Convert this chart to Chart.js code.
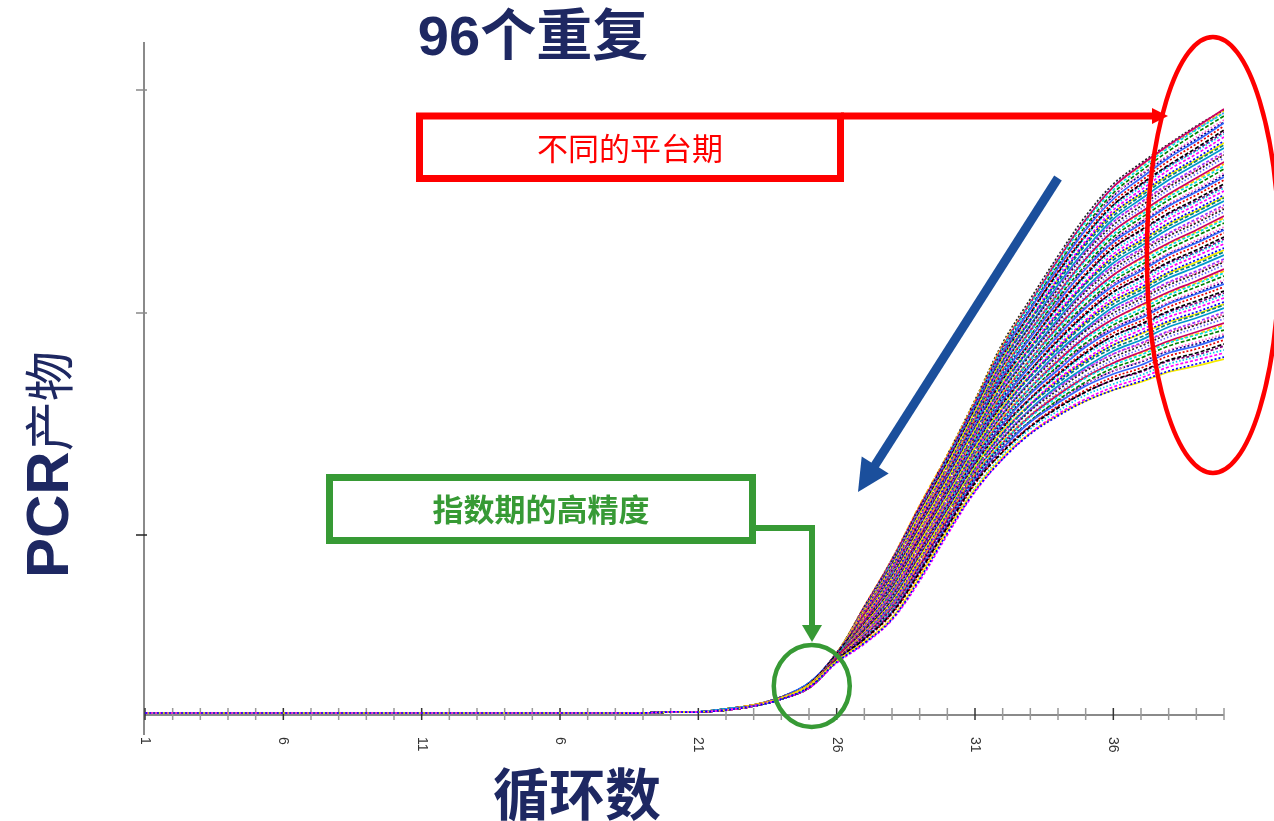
<!DOCTYPE html>
<html lang="zh">
<head>
<meta charset="utf-8">
<title>96个重复</title>
<script src="https://cdn.jsdelivr.net/npm/chart.js@4.4.1/dist/chart.umd.min.js"></script>
<style>
  html, body { margin: 0; padding: 0; background: #fff; }
  #wrap { position: relative; width: 1274px; height: 821px; }
</style>
</head>
<body>
<div id="wrap"><canvas id="pcrChart"></canvas></div>
<script>
// cycle numbers on the x axis
const cycles = [1,2,3,4,5,6,7,8,9,10,11,12,13,14,15,16,17,18,19,20,
                21,22,23,24,25,26,27,28,29,30,31,32,33,34,35,36,37,38,39,40];
const xTickCycles = [1, 6, 11, 16, 21, 26, 31, 36];
const xTickLabels = ['1', '6', '11', '6', '21', '26', '31', '36'];
// unlabelled y ticks (fluorescence, arbitrary units)
const yTickValues = [180, 402, 625];

// all wells sit on the same flat baseline for cycles 1-21
const baseline = [2,2,2,2,2,2,2,2,2,2,2,2,2,2,2,2,2,2,2,3,3];

// cycles 22-40 for each of the 96 replicate wells
const wellTails = [
  [5,9,16,28,53, 72,96,136,182,224,256,281,299,314,325,334,344,351,358],
  [5,9,16,27,52, 71,95,134,180,223,256,282,301,316,328,337,348,355,362],
  [5,9,17,29,54, 73,97,138,184,226,258,282,300,314,325,333,343,349,356],
  [6,9,16,28,53, 72,97,137,184,227,260,286,304,320,331,340,351,358,365],
  [5,9,16,28,55, 76,102,143,188,232,263,288,307,323,335,344,355,362,371],
  [5,9,16,27,54, 75,101,141,186,231,263,289,309,325,338,347,359,366,375],
  [5,9,17,29,56, 77,103,145,190,234,265,289,308,323,335,343,354,360,369],
  [6,9,16,28,55, 76,103,144,190,235,267,293,312,329,341,350,362,369,378],
  [5,9,16,28,55, 78,105,146,191,235,268,293,313,331,344,354,365,373,381],
  [5,9,16,27,54, 77,104,144,189,234,268,294,315,333,347,357,369,377,385],
  [5,9,17,29,56, 79,106,148,193,237,270,294,314,331,344,353,364,371,379],
  [6,9,16,28,55, 78,106,147,193,238,272,298,318,337,350,360,372,380,388],
  [5,9,16,28,55, 79,107,149,195,239,272,299,320,338,352,363,374,383,392],
  [5,9,16,27,54, 78,106,147,193,238,272,300,322,340,355,366,378,387,396],
  [5,9,17,29,56, 80,108,151,197,241,274,300,321,338,352,362,373,381,390],
  [6,9,16,28,55, 79,108,150,197,242,276,304,325,344,358,369,381,390,399],
  [5,9,16,28,55, 81,110,152,198,243,277,305,327,346,361,372,384,393,403],
  [5,9,16,27,54, 80,109,150,196,242,277,306,329,348,364,375,388,397,407],
  [5,9,17,29,56, 82,111,154,200,245,279,306,328,346,361,371,383,391,401],
  [6,9,16,28,55, 81,111,153,200,246,281,310,332,352,367,378,391,400,410],
  [5,9,16,28,55, 82,112,155,201,246,282,310,334,354,370,382,394,403,413],
  [5,9,16,27,54, 81,111,153,199,245,282,311,336,356,373,385,398,407,417],
  [5,9,17,29,56, 83,113,157,203,248,284,311,335,354,370,381,393,401,411],
  [6,9,16,28,55, 82,113,156,203,249,286,315,339,360,376,388,401,410,420],
  [5,9,16,28,55, 84,114,158,204,250,287,316,340,362,379,391,404,414,424],
  [5,9,16,27,54, 83,113,156,202,249,287,317,342,364,382,394,408,418,428],
  [5,9,17,29,56, 85,115,160,206,252,289,317,341,362,379,390,403,412,422],
  [6,9,16,28,55, 84,115,159,206,253,291,321,345,368,385,397,411,421,431],
  [5,9,16,28,55, 85,117,161,207,254,291,322,347,370,387,400,413,424,435],
  [5,9,16,27,54, 84,116,159,205,253,291,323,349,372,390,403,417,428,439],
  [5,9,17,29,56, 86,118,163,209,256,293,323,348,370,387,399,412,422,433],
  [6,9,16,28,55, 85,118,162,209,257,295,327,352,376,393,406,420,431,442],
  [5,9,17,29,58, 86,119,164,210,257,296,327,354,378,396,410,423,434,446],
  [5,9,16,28,57, 85,118,162,208,256,296,328,356,380,399,413,427,438,450],
  [6,10,17,30,58, 87,120,166,212,259,298,328,355,378,396,409,422,432,444],
  [5,9,17,29,59, 86,120,165,212,260,300,332,359,384,402,416,430,441,453],
  [5,9,17,29,58, 88,122,167,214,261,301,333,361,385,405,419,433,444,456],
  [5,9,16,28,57, 87,121,165,212,260,301,334,363,387,408,422,437,448,460],
  [6,10,17,30,58, 89,123,169,216,263,303,334,362,385,405,418,432,442,454],
  [5,9,17,29,59, 88,123,168,216,264,305,338,366,391,411,425,440,451,463],
  [5,9,17,29,58, 89,124,170,217,265,306,339,367,393,414,428,443,455,467],
  [5,9,16,28,57, 88,123,168,215,264,306,340,369,395,417,431,447,459,471],
  [6,10,17,30,58, 90,125,172,219,267,308,340,368,393,414,427,442,453,465],
  [5,9,17,29,59, 89,125,171,219,268,310,344,372,399,420,434,450,462,474],
  [5,9,17,29,58, 91,126,173,220,268,311,344,374,401,423,438,453,465,478],
  [5,9,16,28,57, 90,125,171,218,267,311,345,376,403,426,441,457,469,482],
  [6,10,17,30,58, 92,127,175,222,270,313,345,375,401,423,437,452,463,476],
  [5,9,17,29,59, 91,127,174,222,271,315,349,379,407,429,444,460,472,485],
  [5,9,17,29,58, 92,129,175,223,272,315,350,381,409,431,447,462,475,488],
  [5,9,16,28,57, 91,128,173,221,271,315,351,383,411,434,450,466,479,492],
  [6,10,17,30,58, 93,130,177,225,274,317,351,382,409,431,446,461,473,486],
  [5,9,17,29,59, 92,130,176,225,275,319,355,386,415,437,453,469,482,495],
  [5,9,17,29,58, 94,131,178,226,275,320,355,388,417,440,457,472,485,499],
  [5,9,16,28,57, 93,130,176,224,274,320,356,390,419,443,460,476,489,503],
  [6,10,17,30,58, 95,132,180,228,277,322,356,389,417,440,456,471,483,497],
  [5,9,17,29,59, 94,132,179,228,278,324,360,393,423,446,463,479,492,506],
  [5,9,17,29,58, 95,133,181,229,279,325,361,394,425,449,466,482,496,510],
  [5,9,16,28,57, 94,132,179,227,278,325,362,396,427,452,469,486,500,514],
  [6,10,17,30,58, 96,134,183,231,281,327,362,395,425,449,465,481,494,508],
  [5,9,17,29,59, 95,134,182,231,282,329,366,399,431,455,472,489,503,517],
  [5,9,17,29,58, 97,136,184,233,283,330,367,401,432,458,475,492,506,520],
  [5,9,16,28,57, 96,135,182,231,282,330,368,403,434,461,478,496,510,524],
  [6,10,17,30,58, 98,137,186,235,285,332,368,402,432,458,474,491,504,518],
  [5,9,17,29,59, 97,137,185,235,286,334,372,406,438,464,481,499,513,527],
  [6,10,17,31,61, 98,138,187,236,286,335,372,408,440,467,485,502,516,531],
  [5,10,17,30,60, 97,137,185,234,285,335,373,410,442,470,488,506,520,535],
  [6,10,18,31,62, 99,139,189,238,288,337,373,409,440,467,484,501,514,529],
  [6,10,18,32,61, 98,139,188,238,289,339,377,413,446,473,491,509,523,538],
  [6,10,17,31,61, 99,141,190,239,290,339,378,415,448,475,494,511,526,542],
  [5,10,17,30,60, 98,140,188,237,289,339,379,417,450,478,497,515,530,546],
  [6,10,18,31,62, 100,142,192,241,292,341,379,416,448,475,493,510,524,540],
  [6,10,18,32,61, 99,142,191,241,293,343,383,420,454,481,500,518,533,549],
  [6,10,17,31,61, 101,143,193,242,294,344,384,421,456,484,503,521,537,553],
  [5,10,17,30,60, 100,142,191,240,293,344,385,423,458,487,506,525,541,557],
  [6,10,18,31,62, 102,144,195,244,296,346,385,422,456,484,502,520,535,551],
  [6,10,18,32,61, 101,144,194,244,297,348,389,426,462,490,509,528,544,560],
  [6,10,17,31,61, 102,145,196,245,297,349,389,428,464,493,513,531,547,563],
  [5,10,17,30,60, 101,144,194,243,296,349,390,430,466,496,516,535,551,567],
  [6,10,18,31,62, 103,146,198,247,299,351,390,429,464,493,512,530,545,561],
  [6,10,18,32,61, 102,146,197,247,300,353,394,433,470,499,519,538,554,570],
  [6,10,17,31,61, 104,148,199,248,301,354,395,435,472,502,522,541,557,574],
  [5,10,17,30,60, 103,147,197,246,300,354,396,437,474,505,525,545,561,578],
  [6,10,18,31,62, 105,149,201,250,303,356,396,436,472,502,521,540,555,572],
  [6,10,18,32,61, 104,149,200,250,304,358,400,440,478,508,528,548,564,581],
  [6,10,17,31,61, 105,150,202,252,305,358,401,442,479,510,531,550,567,585],
  [5,10,17,30,60, 104,149,200,250,304,358,402,444,481,513,534,554,571,589],
  [6,10,18,31,62, 106,151,204,254,307,360,402,443,479,510,530,549,565,583],
  [6,10,18,32,61, 105,151,203,254,308,362,406,447,485,516,537,557,574,592],
  [6,10,17,31,61, 107,153,205,255,308,363,406,448,487,519,541,560,578,595],
  [5,10,17,30,60, 106,152,203,253,307,363,407,450,489,522,544,564,582,599],
  [6,10,18,31,62, 108,154,207,257,310,365,407,449,487,519,540,559,576,593],
  [6,10,18,32,61, 107,154,206,257,311,367,411,453,493,525,547,567,585,602],
  [6,10,17,31,61, 108,155,208,258,312,368,412,455,495,528,550,570,588,606],
  [5,10,17,30,60, 107,154,206,256,311,368,413,457,496,529,550,569,586,602],
  [6,10,18,31,62, 109,156,210,260,314,370,413,456,495,528,549,569,586,604],
  [6,10,18,32,61, 108,156,209,260,315,372,416,459,499,531,552,571,589,605]
];

// line colours, cycled over the wells
const wellColors = ['#0000FF', '#FF00FF', '#F5EB00', '#00C8F0', '#000000', '#E00000', '#800080', '#3366FF',
                    '#FF66CC', '#008000', '#000080', '#00E0E0', '#CC0066', '#6666FF', '#FFCC00', '#222222',
                    '#9933FF', '#0099CC', '#FF3399', '#008080'];
const dashPatterns = [[2, 2], [3, 2], [], [1.5, 2], [4, 2]];

const NAVY = '#1E2862';
const LATIN = '"Liberation Sans", Arial, "Noto Sans CJK SC", sans-serif';
const CJK = '"Noto Sans CJK SC", "Liberation Sans", sans-serif';

const datasets = wellTails.map((tail, i) => {
  const values = baseline.concat(tail);
  const color = wellColors[i % wellColors.length];
  return {
    label: 'well ' + (i + 1),
    data: values.map((v, k) => ({ x: cycles[k], y: v })),
    borderColor: color,
    backgroundColor: color,
    borderWidth: 1.7,
    borderDash: dashPatterns[i % dashPatterns.length],
    pointRadius: 0,
    tension: 0.35,
    fill: false
  };
});

function arrow(ctx, x1, y1, x2, y2, width, headLen, headHalf, color) {
  const dx = x2 - x1, dy = y2 - y1;
  const len = Math.hypot(dx, dy);
  const ux = dx / len, uy = dy / len;
  const bx = x2 - ux * headLen, by = y2 - uy * headLen;
  ctx.strokeStyle = color;
  ctx.fillStyle = color;
  ctx.lineWidth = width;
  ctx.lineCap = 'butt';
  ctx.beginPath();
  ctx.moveTo(x1, y1);
  ctx.lineTo(bx + ux * 2, by + uy * 2);
  ctx.stroke();
  ctx.beginPath();
  ctx.moveTo(x2, y2);
  ctx.lineTo(bx - uy * headHalf, by + ux * headHalf);
  ctx.lineTo(bx + uy * headHalf, by - ux * headHalf);
  ctx.closePath();
  ctx.fill();
}

// axis lines, tick marks and rotated cycle labels
const axesPlugin = {
  id: 'pcrAxes',
  beforeDatasetsDraw(chart) {
    const { ctx, scales: { x, y } } = chart;
    const x0 = x.getPixelForValue(cycles[0]);
    const x1 = x.getPixelForValue(cycles[cycles.length - 1]);
    const y0 = y.getPixelForValue(0);
    const yTop = y.getPixelForValue(y.max);
    ctx.save();
    ctx.strokeStyle = '#8a8a8a';
    ctx.lineWidth = 2;
    ctx.beginPath();
    ctx.moveTo(x0 - 1, yTop);
    ctx.lineTo(x0 - 1, y0 + 20);
    ctx.moveTo(x0, y0);
    ctx.lineTo(x1, y0);
    ctx.stroke();

    ctx.lineWidth = 1.5;
    yTickValues.forEach((v, i) => {
      const py = y.getPixelForValue(v);
      ctx.strokeStyle = i === 0 ? '#222' : '#888';
      ctx.beginPath();
      ctx.moveTo(x0 - 9, py);
      ctx.lineTo(x0 + 2, py);
      ctx.stroke();
    });

    cycles.forEach(c => {
      const px = x.getPixelForValue(c);
      ctx.strokeStyle = xTickCycles.includes(c) ? '#333' : '#999';
      ctx.beginPath();
      ctx.moveTo(px, y0 - 7);
      ctx.lineTo(px, y0 + 5);
      ctx.stroke();
    });

    ctx.fillStyle = '#333';
    ctx.font = '14px ' + LATIN;
    ctx.textAlign = 'left';
    ctx.textBaseline = 'middle';
    xTickCycles.forEach((c, i) => {
      ctx.save();
      ctx.translate(x.getPixelForValue(c), y0 + 22);
      ctx.rotate(Math.PI / 2);
      ctx.fillText(xTickLabels[i], 0, 0);
      ctx.restore();
    });
    ctx.restore();
  }
};

// titles, callout boxes, arrows and circles
const calloutPlugin = {
  id: 'pcrCallouts',
  afterDatasetsDraw(chart) {
    const { ctx, scales: { x, y } } = chart;
    ctx.save();

    // headings
    ctx.fillStyle = NAVY;
    ctx.textAlign = 'center';
    ctx.textBaseline = 'middle';
    ctx.font = 'bold 56px ' + LATIN;
    ctx.fillText('96个重复', 533, 40);
    ctx.font = 'bold 56px ' + CJK;
    ctx.fillText('循环数', 577, 794);

    ctx.save();
    ctx.translate(68, 578);
    ctx.rotate(-Math.PI / 2);
    ctx.textAlign = 'left';
    ctx.textBaseline = 'alphabetic';
    ctx.font = 'bold 60px ' + LATIN;
    ctx.fillText('PCR', 0, 0);
    const w = ctx.measureText('PCR').width;
    ctx.font = '50px ' + CJK;
    ctx.fillText('产物', w, 0);
    ctx.restore();

    // red callout: plateau spread
    ctx.strokeStyle = '#FF0000';
    ctx.lineWidth = 7;
    ctx.strokeRect(419.5, 116, 421, 62.5);
    arrow(ctx, 841, 116, 1168, 116, 7, 16, 8, '#FF0000');
    ctx.fillStyle = '#FF0000';
    ctx.font = '31px ' + CJK;
    ctx.fillText('不同的平台期', 630, 148);
    ctx.lineWidth = 4.5;
    ctx.beginPath();
    ctx.ellipse(x.getPixelForValue(39.6), y.getPixelForValue(460), 66, 218, 0, 0, Math.PI * 2);
    ctx.stroke();

    // blue arrow down the exponential phase
    arrow(ctx, 1058, 178, 858, 492, 9, 32, 16, '#1B4F9C');

    // green callout: exponential phase precision
    const green = '#379A35';
    ctx.strokeStyle = green;
    ctx.lineWidth = 7;
    ctx.strokeRect(329.5, 477.5, 423, 63);
    ctx.fillStyle = green;
    ctx.font = 'bold 31px ' + CJK;
    ctx.fillText('指数期的高精度', 541, 509);
    ctx.lineWidth = 6;
    ctx.beginPath();
    ctx.moveTo(753, 528);
    ctx.lineTo(812, 528);
    ctx.lineTo(812, 628);
    ctx.stroke();
    ctx.beginPath();
    ctx.moveTo(812, 642);
    ctx.lineTo(802, 625);
    ctx.lineTo(822, 625);
    ctx.closePath();
    ctx.fill();
    ctx.lineWidth = 4.5;
    ctx.beginPath();
    ctx.ellipse(x.getPixelForValue(25.1), y.getPixelForValue(29), 38, 41, 0, 0, Math.PI * 2);
    ctx.stroke();

    ctx.restore();
  }
};

new Chart(document.getElementById('pcrChart'), {
  type: 'line',
  data: { datasets },
  options: {
    responsive: true,
    maintainAspectRatio: false,
    animation: false,
    events: [],
    layout: { padding: { left: 145, right: 50, top: 42, bottom: 106 } },
    plugins: { legend: { display: false }, tooltip: { enabled: false } },
    scales: {
      x: { type: 'linear', min: 1, max: 40, display: false },
      y: { min: 0, max: 673, display: false }
    }
  },
  plugins: [axesPlugin, calloutPlugin]
});
</script>
</body>
</html>
